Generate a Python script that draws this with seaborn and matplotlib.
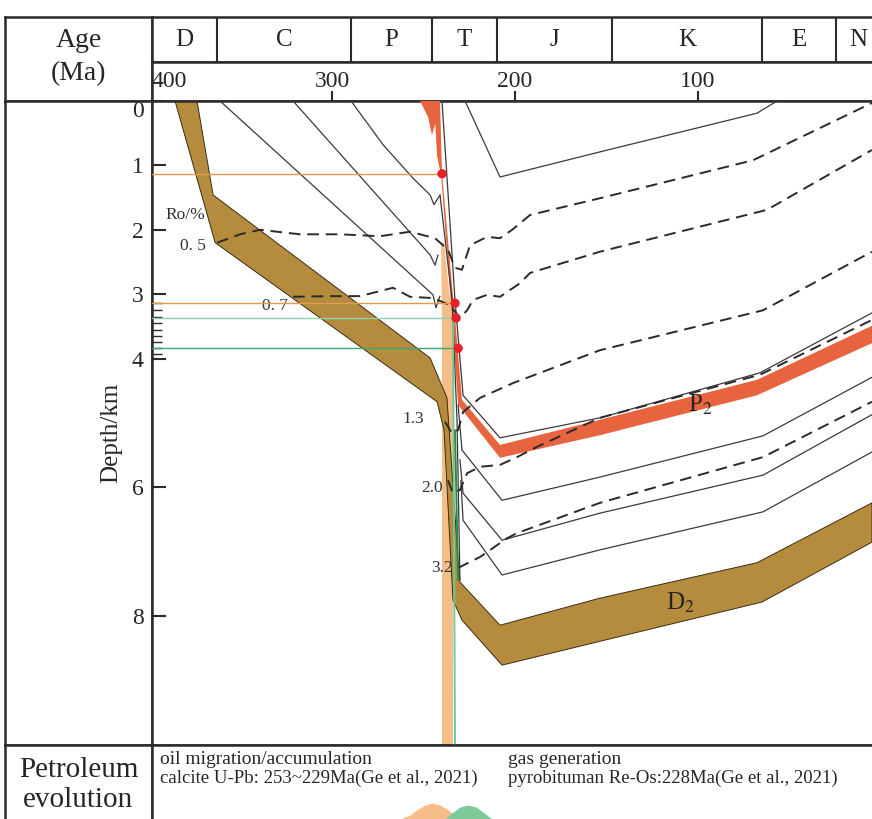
import matplotlib.pyplot as plt
import seaborn as sns
import numpy as np

# ---- header / axes data ----
period_names = ['D', 'C', 'P', 'T', 'J', 'K', 'E', 'N']
period_bounds = [398.4, 362.8, 289.6, 245.4, 209.8, 147.0, 65.0, 24.6, 0.0]
age_labels = ['400', '300', '200', '100', '0']
age_label_pos = [389.0, 300.0, 200.0, 100.0, 0.0]
age_ticks = [300, 200, 100]
depth_ticks = [0, 1, 2, 3, 4, 6, 8]
sample_depths = [3.14, 3.25, 3.35, 3.45, 3.55, 3.65, 3.74, 3.84, 3.93]

# ---- burial history (age Ma, depth km) ----
d2_top_age = [373.8, 365.0, 246.4, 237.2, 231.1, 230.1, 208.2, 153.6, 67.8, 4.9]
d2_top_dep = [0.0, 1.46, 3.99, 4.61, 7.13, 7.47, 8.14, 7.72, 7.17, 6.24]
d2_bot_age = [385.8, 363.9, 242.6, 238.8, 233.9, 229.0, 207.1, 153.6, 65.0, 4.9]
d2_bot_dep = [0.0, 2.2, 4.67, 5.11, 7.75, 8.06, 8.76, 8.39, 7.78, 6.85]

p2_top_age = [241.0, 239.9, 232.2, 229.0, 208.2, 153.6, 67.8, 4.9]
p2_top_dep = [0.0, 1.12, 3.56, 4.64, 5.34, 4.95, 4.33, 3.49]
p2_bot_age = [251.9, 247.5, 245.4, 243.6, 242.6, 240.4, 233.9, 231.1, 208.2, 153.6, 67.8, 4.9]
p2_bot_dep = [0.0, 0.25, 0.53, 0.35, 0.85, 1.15, 3.56, 4.72, 5.54, 5.19, 4.57, 3.76]

# other strata boundaries
solid_lines = {
    'J': ([227.3, 208.2, 153.6, 67.8, 56.8], [0.0, 1.18, 0.79, 0.19, 0.0]),
    'T': ([239.9, 232.8, 228.4, 208.2, 153.6, 66.1, 4.9], [0.0, 3.09, 4.57, 5.23, 4.92, 4.22, 3.29]),
    'S1': ([231.1, 229.0, 207.1, 153.6, 64.5, 4.9], [4.72, 5.42, 6.2, 5.84, 5.2, 4.29]),
    'S2': ([230.1, 228.4, 207.1, 153.6, 64.5, 4.9], [5.57, 6.09, 6.82, 6.4, 5.81, 4.87]),
    'S3': ([229.6, 228.4, 207.1, 153.6, 64.5, 4.9], [5.89, 6.51, 7.36, 6.97, 6.38, 5.45]),
    'C1': ([361.2, 244.8, 243.2, 241.0], [0.0, 3.01, 3.21, 3.03]),
    'C2': ([321.3, 246.4, 243.7, 242.1], [0.0, 2.39, 2.55, 2.39]),
    'P1': ([289.6, 272.1, 255.7, 246.4, 244.3, 241.0], [0.0, 0.68, 1.2, 1.46, 1.61, 1.46]),
    'steep': ([241.0, 234.4, 231.7, 230.1], [1.46, 3.09, 4.95, 7.44]),
}

# vitrinite reflectance isolines
ro_lines = {
    '0.5': ([362.8, 350.3, 339.3, 317.5, 295.6, 273.8, 257.4, 243.7, 236.6, 232.8, 229.0,
             224.6, 215.3, 208.2, 201.6, 191.8, 153.6, 69.9, 4.9],
            [2.2, 2.07, 2.0, 2.07, 2.07, 2.1, 2.03, 2.13, 2.31, 2.59, 2.62,
             2.24, 2.11, 2.13, 2.0, 1.77, 1.51, 0.92, 0.03]),
    '0.7': ([321.3, 301.1, 284.7, 266.7, 257.4, 244.8, 235.5, 230.1, 226.2, 223.0, 215.3,
             208.2, 197.3, 191.8, 153.6, 62.3, 4.9],
            [3.04, 3.03, 3.03, 2.9, 3.04, 3.06, 3.17, 3.37, 3.25, 3.09, 3.01,
             3.04, 2.83, 2.67, 2.34, 1.69, 0.76]),
    '1.3': ([238.3, 234.4, 231.1, 228.4, 219.1, 201.1, 153.6, 64.5, 4.9],
            [4.98, 5.16, 5.11, 4.83, 4.61, 4.38, 3.87, 3.25, 2.34]),
    '2.0': ([236.6, 233.9, 230.1, 226.2, 219.1, 208.2, 198.9, 188.0, 153.6, 66.1, 4.9],
            [5.89, 6.09, 6.04, 5.78, 5.68, 5.65, 5.53, 5.37, 4.92, 4.25, 3.40]),
    '3.2': ([231.1, 219.1, 204.4, 198.9, 153.6, 64.5, 4.9],
            [7.25, 7.08, 6.79, 6.71, 6.24, 5.53, 4.67]),
}
ro_label_pos = {'0. 5': (376.0, 2.25), '0. 7': (331.1, 3.18), '1.3': (255.7, 4.94),
                '2.0': (245.4, 6.01), '3.2': (239.9, 7.25)}

# sample depths with charge ages
oil_depths = [1.13, 3.14]
oil_end_age = [239.9, 232.8]
gas_depths = [3.37, 3.84]
gas_end_age = [232.2, 231.1]

# petroleum evolution curves (age, relative height)
oil_bell_age = [262.8, 257.4, 253.0, 249.2, 245.4, 241.0, 237.2, 233.9, 230.1]
oil_bell_h = [0, 4, 10, 14, 16, 14, 10, 5, 0]
gas_bell_age = [238.3, 234.4, 230.1, 225.7, 221.3, 216.9, 212.6]
gas_bell_h = [0, 6, 12, 14, 12, 6, 0]

sns.set_theme(style='white')
plt.rcParams['font.family'] = ['Liberation Serif', 'DejaVu Serif']
plt.rcParams['mathtext.fontset'] = 'stix'

W, H = 872, 819
fig = plt.figure(figsize=(W / 100, H / 100), dpi=100)


def box(x0, y0, x1, y1):
    a = fig.add_axes([x0 / W, 1 - y1 / H, (x1 - x0) / W, (y1 - y0) / H])
    a.set_xticks([])
    a.set_yticks([])
    for s in a.spines.values():
        s.set_linewidth(1.8)
        s.set_color('#2b2b2b')
    return a


XL = (398.4, 4.9)
ink = '#2b2b2b'

# left column
ax_hl = box(5, 17, 152, 101)
ax_hl.text(0.5, 0.72, 'Age', ha='center', va='center', fontsize=20, transform=ax_hl.transAxes)
ax_hl.text(0.5, 0.33, '(Ma)', ha='center', va='center', fontsize=20, transform=ax_hl.transAxes)
ax_ml = box(5, 101, 152, 745)
ax_ml.text(0.72, 0.485, 'Depth/km', rotation=90, ha='center', va='center', fontsize=18,
           transform=ax_ml.transAxes)
ax_bl = box(5, 745, 152, 835)
ax_bl.text(0.5, 0.72, 'Petroleum', ha='center', va='center', fontsize=21, transform=ax_bl.transAxes)
ax_bl.text(0.5, 0.39, 'evolution', ha='center', va='center', fontsize=21, transform=ax_bl.transAxes)

# period row
ax_p = box(152, 17, 890, 62)
ax_p.set_xlim(XL[0], XL[0] - (XL[0] - XL[1]) * 738 / 720)
ax_p.set_ylim(0, 1)
for b in period_bounds[1:-1]:
    ax_p.axvline(b, color=ink, lw=1.5)
for i, name in enumerate(period_names):
    ax_p.text((period_bounds[i] + period_bounds[i + 1]) / 2, 0.5, name,
              ha='center', va='center', fontsize=18)

# age row
ax_a = box(152, 62, 890, 101)
ax_a.set_xlim(ax_p.get_xlim())
ax_a.set_ylim(0, 1)
ax_a.set_xticks(age_ticks)
ax_a.set_xticklabels([])
ax_a.tick_params(axis='x', direction='in', length=7, width=1.5, color=ink, bottom=True)
for lab, pos in zip(age_labels, age_label_pos):
    ax_a.text(pos, 0.5, lab, ha='center', va='center', fontsize=17)

# main burial plot
ax = fig.add_axes([152 / W, 1 - 745 / H, 720 / W, 644 / H])
ax.set_xlim(*XL)
ax.set_ylim(10.0, 0.0)
for s in ['top', 'bottom', 'left']:
    ax.spines[s].set_linewidth(1.8)
    ax.spines[s].set_color(ink)
ax.spines['right'].set_visible(False)

# oil migration window band
ax.fill([240.4, 238.8, 233.9, 233.9, 239.9, 239.9], [2.2, 2.2, 3.5, 10.0, 10.0, 3.5],
        color='#F5BE88', lw=0, zorder=1)

ax.fill(d2_top_age + d2_bot_age[::-1], d2_top_dep + d2_bot_dep[::-1],
        facecolor='#B58C3E', edgecolor='#3a2c12', lw=0.7, zorder=2)
ax.fill(p2_top_age + p2_bot_age[::-1], p2_top_dep + p2_bot_dep[::-1],
        facecolor='#E8643E', edgecolor='none', lw=0, zorder=3)

for name, (xs, ys) in solid_lines.items():
    sns.lineplot(x=xs, y=ys, sort=False, estimator=None, ax=ax, color='#3a3a3a',
                 lw=0.9, zorder=4)

for name, (xs, ys) in ro_lines.items():
    sns.lineplot(x=xs, y=ys, sort=False, estimator=None, ax=ax, color='#2a2a2a',
                 lw=1.4, linestyle=(0, (6, 3.5)), zorder=5)

for lab, (xa, yd) in ro_label_pos.items():
    ax.text(xa, yd, lab, ha='center', va='center', fontsize=12.5, color='#333333', zorder=6)
ax.text(380.3, 1.77, 'Ro/%', ha='center', va='center', fontsize=12.5, color='#333333')
ax.text(98.9, 4.72, r'P$_2$', ha='center', va='center', fontsize=18, color='#222222', zorder=6)
ax.text(109.8, 7.8, r'D$_2$', ha='center', va='center', fontsize=18, color='#222222', zorder=6)

# calibration samples
for d, a_end, c in zip(oil_depths, oil_end_age, ['#E39A4E', '#E39A4E']):
    ax.plot([XL[0], a_end], [d, d], color=c, lw=1.0, zorder=6)
for d, a_end, c in zip(gas_depths, gas_end_age, ['#8BD3B0', '#3FA877']):
    ax.plot([XL[0], a_end], [d, d], color=c, lw=1.0, zorder=6)
ax.plot([233.9, 232.8], [3.37, 10.0], color='#6FC79A', lw=1.4, zorder=6)
ax.plot([232.8, 231.1], [5.11, 7.44], color='#2F8A45', lw=1.4, zorder=6)
sns.scatterplot(x=oil_end_age + gas_end_age, y=oil_depths + gas_depths, ax=ax,
                color='#E8202A', s=45, edgecolor='none', zorder=7)

ax.set_yticks(depth_ticks)
ax.set_yticklabels([str(t) for t in depth_ticks], fontsize=17)
ax.get_yticklabels()[0].set_va('top')
ax.set_yticks(sample_depths, minor=True)
ax.tick_params(axis='y', which='major', direction='in', length=10, width=1.5, color=ink,
               left=True, pad=6)
ax.tick_params(axis='y', which='minor', direction='in', length=7, width=1.0, color=ink, left=True)
ax.set_xticks([])
ax.set_xlabel('')
ax.set_ylabel('')

# petroleum evolution row
ax_b = box(152, 745, 890, 835)
ax_b.set_xlim(ax_p.get_xlim())
ax_b.set_ylim(-16, 74)
ax_b.fill_between(oil_bell_age, -16, oil_bell_h, color='#F5BE88', lw=0)
ax_b.fill_between(gas_bell_age, -16, gas_bell_h, color='#7DC99A', lw=0)
ax_b.text(394, 59, 'oil migration/accumulation', ha='left', va='center', fontsize=14)
ax_b.text(394, 41, 'calcite U-Pb: 253~229Ma(Ge et al., 2021)', ha='left', va='center', fontsize=13.5)
ax_b.text(203.8, 59, 'gas generation', ha='left', va='center', fontsize=14)
ax_b.text(203.8, 41, 'pyrobituman Re-Os:228Ma(Ge et al., 2021)', ha='left', va='center', fontsize=13.5)

fig.savefig('out.png', dpi=100)
